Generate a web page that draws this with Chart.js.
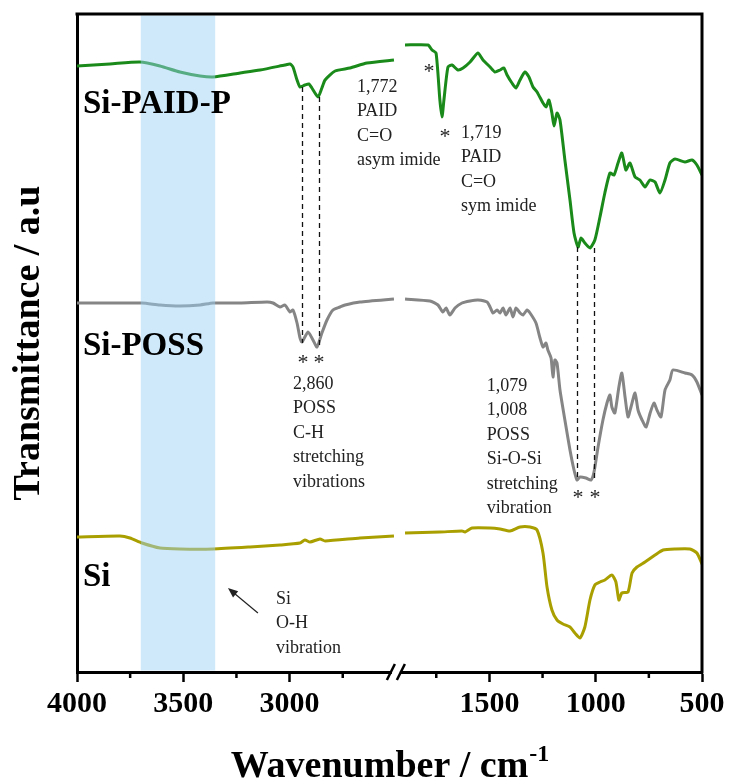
<!DOCTYPE html>
<html>
<head>
<meta charset="utf-8">
<script src="https://cdn.jsdelivr.net/npm/chart.js@4.4.1/dist/chart.umd.min.js"></script>
<style>
html, body { margin: 0; padding: 0; background: #fff; }
#wrap { width: 730px; height: 784px; }
</style>
</head>
<body>
<div id="wrap"><canvas id="ftir"></canvas></div>
<script>
// axis break: the 2500 -> 1940 cm-1 range is cut out
const BREAK_HI = 2500;
const BREAK_LO = 1940;

const TICK_LABELS = [4000, 3500, 3000, 1500, 1000, 500];
const MINOR_TICKS = [3750, 3250, 2750, 1750, 1250, 750];
const BAND = [3700, 3350];

const SERIES_NAMES = ['Si-PAID-P', 'Si-POSS', 'Si'];
const SERIES_COLORS = ['#1a8a1a', '#858585', '#a99f00'];

// Si-PAID-P (null = axis break)
const PAIDP_WN = [4000, 3845, 3704, 3610, 3516, 3421, 3360, 3233, 3139, 3022, 2998, 2984, 2965, 2951, 2928, 2909, 2895, 2866, 2848, 2833, 2786, 2716, 2636, 2509,
  2200,
  1897, 1789, 1770, 1751, 1733, 1723, 1714, 1695, 1676, 1648, 1624, 1591, 1554, 1530, 1497, 1474, 1450, 1432, 1417, 1394, 1375, 1356, 1333, 1314, 1295, 1276,
  1248, 1234, 1220, 1206, 1196, 1182, 1168, 1145, 1121, 1102, 1083, 1069, 1051, 1027, 1004, 980, 957, 933, 914, 895, 877, 858, 839, 815, 792, 768, 745, 721,
  698, 674, 651, 627, 580, 547, 524, 500];
const PAIDP_T = [606, 608, 610, 606, 600, 596, 595, 599, 602, 607, 608, 605, 592, 585, 587, 588, 584, 575, 584, 592, 601, 604, 609, 612,
  null,
  627, 627, 622, 619, 572, 555, 572, 605, 607, 602, 604, 610, 619, 612, 605, 600, 602, 604, 597, 589, 584, 592, 600, 595, 585, 580,
  569, 565, 572, 559, 546, 559, 552, 512, 472, 439, 425, 434, 429, 424, 432, 455, 479, 499, 497, 509, 519, 502, 509, 495, 492, 485, 492, 490,
  479, 492, 509, 513, 510, 512, 507, 497];

// Si-POSS
const POSS_WN = [4000, 3845, 3694, 3610, 3516, 3421, 3360, 3233, 3106, 3078, 3045, 3022, 2998, 2984, 2965, 2951, 2942, 2913, 2890, 2871, 2848, 2824, 2796, 2763, 2739, 2669, 2509,
  2200,
  1897, 1780, 1742, 1719, 1704, 1686, 1662, 1629, 1591, 1554, 1511, 1497, 1483, 1464, 1450, 1436, 1422, 1403, 1389, 1375, 1356, 1342, 1323, 1309, 1281, 1262,
  1248, 1234, 1225, 1210, 1201, 1192, 1182, 1168, 1145, 1121, 1102, 1088, 1074, 1046, 1022, 1008, 989, 966, 947, 933, 924, 910, 891, 877, 862, 848, 834,
  815, 801, 782, 763, 744, 726, 712, 693, 674, 651, 637, 580, 547, 524, 500];
const POSS_T = [369, 369, 369, 367, 366, 367, 369, 369, 370, 369, 365, 367, 360, 362, 349, 334, 330, 340, 332, 325, 339, 352, 362, 365, 367, 370, 373,
  null,
  373, 371, 367, 360, 364, 357, 364, 369, 371, 372, 370, 365, 359, 362, 359, 364, 357, 364, 355, 364, 359, 357, 362, 359, 349, 334,
  325, 329, 322, 314, 295, 312, 309, 282, 252, 222, 202, 192, 195, 194, 192, 200, 225, 252, 269, 277, 265, 259, 285, 299, 275, 255, 265,
  279, 262, 252, 245, 259, 269, 262, 255, 282, 292, 302, 299, 297, 290, 277];

// Si
const SI_WN = [4000, 3798, 3751, 3694, 3610, 3516, 3360, 3186, 3045, 2951, 2928, 2904, 2857, 2833, 2669, 2509,
  2200,
  1897, 1733, 1629, 1615, 1582, 1497, 1450, 1403, 1356, 1309, 1276, 1248, 1229, 1206, 1182, 1154, 1121, 1098, 1074, 1051, 1027, 1004,
  980, 957, 924, 905, 891, 877, 848, 829, 806, 768, 721, 683, 627, 557, 524, 500];
const SI_T = [135, 136, 134, 129, 124, 123, 123, 125, 127, 129, 132, 130, 133, 131, 134, 136,
  null,
  139, 140, 141, 140, 144, 144, 143, 141, 145, 145, 142, 119, 85, 62, 52, 48, 45, 39, 34, 45, 72, 87,
  90, 92, 97, 90, 72, 79, 80, 99, 105, 110, 117, 122, 123, 123, 119, 108];

// dashed guide lines: wavenumber, from, to (a.u.)
const DASH_WN = [2940, 2862, 1086, 1008];
const DASH_FROM = [585, 575, 425, 424];
const DASH_TO = [329, 324, 192, 192];

// asterisks
const STAR_WN = [1784, 1709, 2937, 2862, 1083, 1003];
const STAR_T = [605, 540, 314, 314, 179, 179];

// series labels
const LABEL_WN = [3972, 3972, 3972];
const LABEL_T = [559, 317, 86];

// band assignments
const NOTES = [
  { wn: 2683, t: 580, lines: ['1,772', 'PAID', 'C=O', 'asym imide'] },
  { wn: 1634, t: 534, lines: ['1,719', 'PAID', 'C=O', 'sym imide'] },
  { wn: 2984, t: 283, lines: ['2,860', 'POSS', 'C-H', 'stretching', 'vibrations'] },
  { wn: 1512, t: 281, lines: ['1,079', '1,008', 'POSS', 'Si-O-Si', 'stretching', 'vibration'] },
  { wn: 3064, t: 68, lines: ['Si', 'O-H', 'vibration'] }
];
const ARROW_FROM = [3149, 59];
const ARROW_TO = [3290, 84];

const SERIF = "'Liberation Serif', 'Times New Roman', serif";

function toAxis(wn) {
  if (wn >= BREAK_HI) return wn - (BREAK_HI - BREAK_LO);
  if (wn <= BREAK_LO) return wn;
  return BREAK_LO;
}
function fromAxis(u) {
  return u > BREAK_LO ? u + (BREAK_HI - BREAK_LO) : u;
}

function points(wn, t) {
  return wn.map((w, i) => ({ x: toAxis(w), y: t[i] }));
}

const decorPlugin = {
  id: 'decor',
  afterDatasetsDraw(chart) {
    const { ctx, chartArea: a, scales: { x, y } } = chart;
    const px = w => x.getPixelForValue(toAxis(w));
    const py = v => y.getPixelForValue(v);
    ctx.save();
    // O-H band
    const b0 = px(BAND[0]), b1 = px(BAND[1]);
    ctx.fillStyle = 'rgba(155,210,246,0.48)';
    ctx.fillRect(b0, a.top + 1.5, b1 - b0, a.bottom - a.top - 3);

    // dashed lines
    ctx.strokeStyle = '#111';
    ctx.lineWidth = 1.3;
    ctx.setLineDash([5, 4]);
    DASH_WN.forEach((w, i) => {
      ctx.beginPath();
      ctx.moveTo(Math.round(px(w)) + 0.5, py(DASH_FROM[i]));
      ctx.lineTo(Math.round(px(w)) + 0.5, py(DASH_TO[i]));
      ctx.stroke();
    });
    ctx.setLineDash([]);

    // asterisks
    ctx.fillStyle = '#222';
    ctx.font = '22px ' + SERIF;
    ctx.textAlign = 'center';
    ctx.textBaseline = 'alphabetic';
    STAR_WN.forEach((w, i) => {
      ctx.fillText('*', px(w), py(STAR_T[i]) + 11);
    });

    // notes
    ctx.font = '18px ' + SERIF;
    ctx.textAlign = 'left';
    NOTES.forEach(n => {
      n.lines.forEach((line, k) => {
        ctx.fillText(line, px(n.wn), py(n.t) + k * 24.4);
      });
    });

    // arrow
    const x0 = px(ARROW_FROM[0]), y0 = py(ARROW_FROM[1]);
    const x1 = px(ARROW_TO[0]), y1 = py(ARROW_TO[1]);
    const ang = Math.atan2(y1 - y0, x1 - x0);
    ctx.strokeStyle = '#222';
    ctx.lineWidth = 1.2;
    ctx.beginPath();
    ctx.moveTo(x0, y0);
    ctx.lineTo(x1 - 7 * Math.cos(ang), y1 - 7 * Math.sin(ang));
    ctx.stroke();
    ctx.beginPath();
    ctx.moveTo(x1, y1);
    ctx.lineTo(x1 - 10 * Math.cos(ang) + 4 * Math.sin(ang), y1 - 10 * Math.sin(ang) - 4 * Math.cos(ang));
    ctx.lineTo(x1 - 10 * Math.cos(ang) - 4 * Math.sin(ang), y1 - 10 * Math.sin(ang) + 4 * Math.cos(ang));
    ctx.closePath();
    ctx.fill();

    // series labels
    ctx.fillStyle = '#000';
    ctx.font = 'bold 33px ' + SERIF;
    SERIES_NAMES.forEach((name, i) => {
      ctx.fillText(name, px(LABEL_WN[i]), py(LABEL_T[i]));
    });
    ctx.restore();
  },
  afterDraw(chart) {
    const { ctx, chartArea: a, scales: { x } } = chart;
    ctx.save();
    ctx.strokeStyle = '#000';
    ctx.lineWidth = 3;
    // top + right frame
    ctx.beginPath();
    ctx.moveTo(a.left - 1.5, a.top);
    ctx.lineTo(a.right, a.top);
    ctx.lineTo(a.right, a.bottom + 1.5);
    ctx.stroke();

    // minor ticks
    ctx.lineWidth = 2.5;
    MINOR_TICKS.forEach(w => {
      const tx = x.getPixelForValue(toAxis(w));
      ctx.beginPath();
      ctx.moveTo(tx, a.bottom);
      ctx.lineTo(tx, a.bottom + 6);
      ctx.stroke();
    });

    // axis break marks
    const bx = x.getPixelForValue(BREAK_LO);
    ctx.fillStyle = '#fff';
    ctx.fillRect(bx - 4, a.bottom - 3, 8, 6);
    ctx.lineWidth = 2.5;
    [-5, 5].forEach(d => {
      ctx.beginPath();
      ctx.moveTo(bx + d - 4, a.bottom + 8);
      ctx.lineTo(bx + d + 4, a.bottom - 8);
      ctx.stroke();
    });

    // x title with superscript
    const main = 'Wavenumber / cm';
    const sup = '-1';
    ctx.fillStyle = '#000';
    ctx.textBaseline = 'alphabetic';
    ctx.textAlign = 'left';
    ctx.font = 'bold 38px ' + SERIF;
    const w1 = ctx.measureText(main).width;
    ctx.font = 'bold 24px ' + SERIF;
    const w2 = ctx.measureText(sup).width;
    const sx = (a.left + a.right) / 2 - (w1 + w2) / 2;
    ctx.font = 'bold 38px ' + SERIF;
    ctx.fillText(main, sx, 777);
    ctx.font = 'bold 24px ' + SERIF;
    ctx.fillText(sup, sx + w1 + 1, 761);
    ctx.restore();
  }
};

const ctx = document.getElementById('ftir');
new Chart(ctx, {
  type: 'line',
  data: {
    datasets: [
      { label: SERIES_NAMES[0], data: points(PAIDP_WN, PAIDP_T), borderColor: SERIES_COLORS[0] },
      { label: SERIES_NAMES[1], data: points(POSS_WN, POSS_T), borderColor: SERIES_COLORS[1] },
      { label: SERIES_NAMES[2], data: points(SI_WN, SI_T), borderColor: SERIES_COLORS[2] }
    ]
  },
  options: {
    responsive: true,
    maintainAspectRatio: false,
    animation: false,
    spanGaps: false,
    layout: { padding: { left: 0, right: 28, top: 14, bottom: 0 } },
    elements: {
      point: { radius: 0 },
      line: { borderWidth: 3, tension: 0.2, fill: false }
    },
    plugins: {
      legend: { display: false },
      tooltip: { enabled: false }
    },
    scales: {
      x: {
        type: 'linear',
        reverse: true,
        min: 500,
        max: toAxis(4000),
        afterBuildTicks: (s) => {
          s.ticks = TICK_LABELS.map(w => ({ value: toAxis(w) }));
        },
        afterFit: (s) => { s.height = 112; },
        ticks: {
          autoSkip: false,
          maxRotation: 0,
          padding: 4,
          color: '#000',
          font: { family: SERIF, size: 30, weight: 'bold' },
          callback: (v) => String(fromAxis(v))
        },
        grid: {
          display: true,
          drawOnChartArea: false,
          drawTicks: true,
          tickLength: 10,
          tickWidth: 2.5,
          tickColor: '#000'
        },
        border: { display: true, width: 3, color: '#000' },
        title: { display: false }
      },
      y: {
        min: 0,
        max: 658,
        afterFit: (s) => { s.width = 77; },
        ticks: { display: false },
        grid: { display: false, drawTicks: false },
        border: { display: true, width: 3, color: '#000' },
        title: {
          display: true,
          text: 'Transmittance / a.u',
          color: '#000',
          font: { family: SERIF, size: 38, weight: 'bold', lineHeight: 1.2 },
          padding: { top: 6, bottom: 0 }
        }
      }
    }
  },
  plugins: [decorPlugin]
});
</script>
</body>
</html>
